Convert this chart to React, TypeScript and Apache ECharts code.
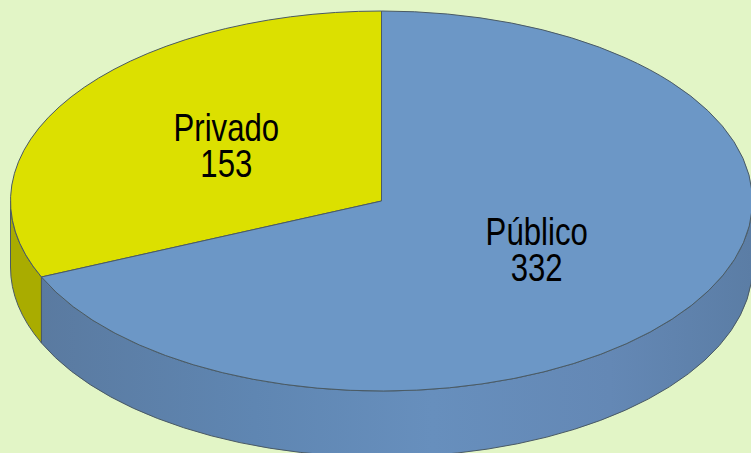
import React, { useEffect, useRef } from "react";
import * as echarts from "echarts";

const categories = ["Privado", "Público"];
const values = [153, 332];
const topColors = ["#dce000", "#6c97c6"];

const CX = 381.5, CY = 201, RX = 371, RY = 190, DEPTH = 66;
const total = values.reduce((a, b) => a + b, 0);

const px = (t: number) => CX - RX * Math.sin(t);
const py = (t: number) => CY - RY * Math.cos(t);
const f = (n: number) => n.toFixed(2);

function sidePath(a: number, b: number) {
  // visible wall: the lower half of the ellipse, theta in [PI/2, 3PI/2]
  const s = Math.max(a, Math.PI / 2);
  const e = Math.min(b, (3 * Math.PI) / 2);
  if (e <= s) return null;
  return `M${f(px(s))} ${f(py(s))}A${RX} ${RY} 0 0 0 ${f(px(e))} ${f(py(e))}` +
    `L${f(px(e))} ${f(py(e) + DEPTH)}A${RX} ${RY} 0 0 1 ${f(px(s))} ${f(py(s) + DEPTH)}Z`;
}

function topPath(a: number, b: number) {
  const large = b - a > Math.PI ? 1 : 0;
  return `M${CX} ${CY}L${f(px(a))} ${f(py(a))}A${RX} ${RY} 0 ${large} 0 ${f(px(b))} ${f(py(b))}Z`;
}

const sideFills: any[] = [
  "#a9ac00",
  {
    type: "linear", x: 41, y: 0, x2: 752, y2: 0, global: true,
    colorStops: [
      { offset: 0, color: "#5a7aa0" },
      { offset: 0.3, color: "#5f86b2" },
      { offset: 0.55, color: "#678fbd" },
      { offset: 0.8, color: "#6488b5" },
      { offset: 1, color: "#5b7da5" },
    ],
  },
];
const EDGE = "#4a5a64";

export default function App() {
  const ref = useRef<HTMLDivElement>(null);
  useEffect(() => {
    const chart = echarts.init(ref.current!, null, { renderer: "svg" });
    chart.setOption({
      animation: false,
      backgroundColor: "#e2f5c6",
      series: [
        {
          type: "custom",
          coordinateSystem: "none",
          silent: true,
          data: categories.map((name, i) => ({ name, value: [values[i]] })),
          renderItem: (params: any, api: any) => {
            const i = params.dataIndex;
            const before = values.slice(0, i).reduce((a, b) => a + b, 0);
            const a = (before / total) * 2 * Math.PI;
            const b = ((before + Number(api.value(0))) / total) * 2 * Math.PI;
            const mid = (a + b) / 2;
            const children: any[] = [];
            const side = sidePath(a, b);
            if (side) {
              children.push({
                type: "path",
                shape: { pathData: side },
                style: { fill: sideFills[i], stroke: EDGE, lineWidth: 1 },
              });
            }
            children.push({
              type: "path",
              shape: { pathData: topPath(a, b) },
              style: { fill: topColors[i], stroke: EDGE, lineWidth: 1 },
            });
            children.push({
              type: "text",
              x: CX - RX * 0.5 * Math.sin(mid),
              y: CY - RY * 0.5 * Math.cos(mid) - 3,
              scaleX: 0.82,
              style: {
                text: `${categories[i]}\n${values[i]}`,
                fill: "#000000",
                font: '38px "Liberation Sans"',
                lineHeight: 36,
                align: "center",
                verticalAlign: "middle",
              },
            });
            return { type: "group", children };
          },
        },
      ],
    });
    return () => chart.dispose();
  }, []);
  return <div ref={ref} style={{ position: "absolute", left: 0, top: 0, width: 751, height: 453 }} />;
}
